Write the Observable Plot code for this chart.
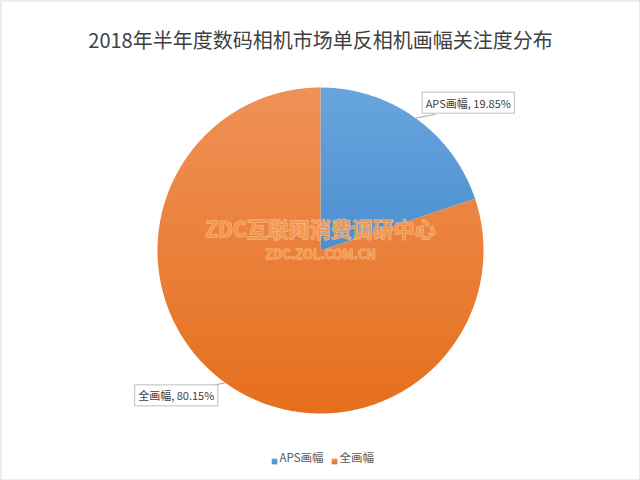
<!DOCTYPE html>
<html><head><meta charset="utf-8">
<script src="https://cdn.jsdelivr.net/npm/d3@7"></script>
<script src="https://cdn.jsdelivr.net/npm/@observablehq/plot@0.6"></script>
<style>body{margin:0;background:#fff}#chart{width:640px;height:480px}</style>
</head><body><div id="chart"></div>
<script>
const title = "2018年半年度数码相机市场单反相机画幅关注度分布";
const categories = ["APS画幅", "全画幅"];
const shares = [19.85, 80.15];
const watermark = ["ZDC互联网消费调研中心", "ZDC.ZOL.COM.CN"];

const W = 640, H = 480, cx = 320, cy = 250, R = 163;
const font = "'Noto Sans CJK SC', 'Noto Sans', sans-serif";
const total = d3.sum(shares);
let acc = 0;
const slices = categories.map((name, i) => {
  const a0 = acc / total * 2 * Math.PI; acc += shares[i];
  const a1 = acc / total * 2 * Math.PI;
  const mid = (a0 + a1) / 2;
  return {name, value: shares[i], a0, a1, mx: Math.sin(mid), my: Math.cos(mid)};
});
const pts = [];
for (const s of slices) {
  pts.push({name: s.name, x: 0, y: 0});
  const n = Math.max(2, Math.ceil((s.a1 - s.a0) / (Math.PI / 360)));
  for (let k = 0; k <= n; k++) {
    const a = s.a0 + (s.a1 - s.a0) * k / n;
    pts.push({name: s.name, x: Math.sin(a), y: Math.cos(a)});
  }
  pts.push({name: s.name, x: 0, y: 0});
}
// callout layout (pixels relative to slice edge point)
const callout = [
  {tx: 10, ty: -14, anchor: "start", lx: 20, ly: -4},
  {tx: -11, ty: 14, anchor: "end", lx: -20, ly: 4}
];
const marks = [
  Plot.line(pts, {x: "x", y: "y", z: "name", fill: "name", stroke: "none", curve: "linear"})
];
slices.forEach((s, i) => {
  const c = callout[i];
  marks.push(Plot.link([s], {x1: "mx", y1: "my", x2: d => d.mx + c.lx / R, y2: d => d.my - c.ly / R, stroke: "#a6a6a6", strokeWidth: 1}));
  marks.push(Plot.text([s], {x: d => d.mx + c.tx / R, y: d => d.my - c.ty / R, text: d => `${d.name}, ${d.value.toFixed(2)}%`,
    textAnchor: c.anchor, fontSize: 11, fill: "#404040", fontFamily: font}));
});
marks.push(
  Plot.text([watermark[0]], {x: 0, y: 20 / R, text: d => d, fontSize: 21, fontWeight: "bold", fontFamily: font,
    fill: "#f39a52", fillOpacity: 0.9, stroke: "#fbd0a8", strokeWidth: 1, strokeOpacity: 0.8}),
  Plot.text([watermark[1]], {x: 0, y: -4 / R, text: d => d, fontSize: 13, fontWeight: "bold", fontFamily: font,
    fill: "#f39a52", fillOpacity: 0.9, stroke: "#fbd0a8", strokeWidth: 0.8, strokeOpacity: 0.8}),
  Plot.text([title], {frameAnchor: "top", dy: 33, text: d => d, fontSize: 20, fill: "#404040", fontFamily: font}),
  Plot.dot([categories[0]], {frameAnchor: "bottom", dx: -46, dy: -19, symbol: "square", r: 3.2, fill: d => d}),
  Plot.text([categories[0]], {frameAnchor: "bottom", dx: -41, dy: -19, text: d => d, textAnchor: "start", fontSize: 11.5, fill: "#595959", fontFamily: font}),
  Plot.dot([categories[1]], {frameAnchor: "bottom", dx: 14, dy: -19, symbol: "square", r: 3.2, fill: d => d}),
  Plot.text([categories[1]], {frameAnchor: "bottom", dx: 19, dy: -19, text: d => d, textAnchor: "start", fontSize: 11.5, fill: "#595959", fontFamily: font}),
  Plot.frame({stroke: "#d9d9d9", inset: 0.5})
);
const chart = Plot.plot({
  width: W, height: H, margin: 0,
  style: {fontFamily: font, background: "white"},
  x: {domain: [-cx / R, (W - cx) / R], range: [0, W], axis: null},
  y: {domain: [-(H - cy) / R, cy / R], range: [H, 0], axis: null},
  color: {domain: categories, range: ["url(#gBlue)", "url(#gOrange)"]},
  marks
});
document.getElementById("chart").appendChild(chart);
const ns = "http://www.w3.org/2000/svg";
const defs = document.createElementNS(ns, "defs");
defs.innerHTML = `
<linearGradient id="gBlue" x1="0" y1="0" x2="0" y2="1"><stop offset="0" stop-color="#68a5dd"/><stop offset="1" stop-color="#4b8fd1"/></linearGradient>
<linearGradient id="gOrange" x1="0" y1="0" x2="0" y2="1"><stop offset="0" stop-color="#f09157"/><stop offset="1" stop-color="#e56f1c"/></linearGradient>`;
chart.insertBefore(defs, chart.firstChild);
chart.querySelectorAll("text").forEach(t => {
  if (!t.textContent.includes("%")) return;
  const b = t.getBBox();
  const r = document.createElementNS(ns, "rect");
  r.setAttribute("x", b.x - 3.5); r.setAttribute("y", b.y - 2.5);
  r.setAttribute("width", b.width + 7); r.setAttribute("height", b.height + 5);
  r.setAttribute("fill", "white"); r.setAttribute("stroke", "#bfbfbf");
  const tr = t.getAttribute("transform");
  if (tr) r.setAttribute("transform", tr);
  t.parentNode.insertBefore(r, t);
});
</script></body></html>
